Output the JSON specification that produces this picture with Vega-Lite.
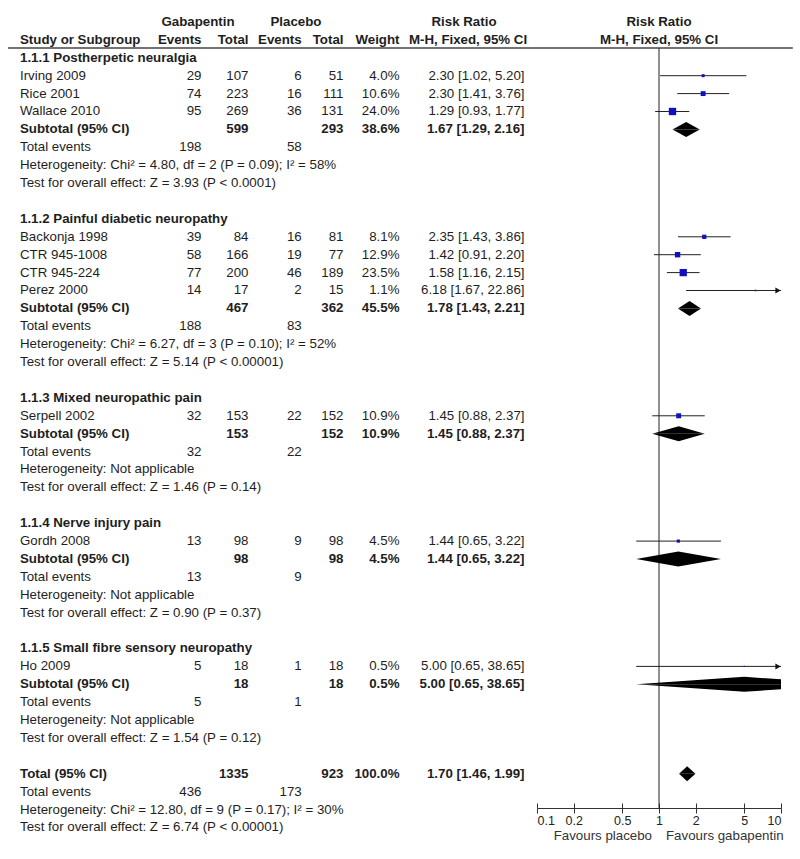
{
  "$schema": "https://vega.github.io/schema/vega-lite/v6.json",
  "padding": 0,
  "spacing": 0,
  "bounds": "flush",
  "background": "white",
  "config": {
    "view": {"stroke": null},
    "font": "Liberation Sans",
    "text": {"font": "Liberation Sans", "fontSize": 13.3, "baseline": "middle", "color": "#1e1e1e"},
    "axis": {"labelFont": "Liberation Sans"}
  },
  "resolve": {"scale": {"x": "independent", "y": "independent"}},
  "datasets": {
    "table": [
      {"line": 2, "kind": "group", "label": "1.1.1 Postherpetic neuralgia"},
      {"line": 3, "kind": "study", "label": "Irving 2009", "ge": 29, "gt": 107, "pe": 6, "pt": 51, "weight": 0.040, "rr": 2.30, "lo": 1.02, "hi": 5.20, "ci": "2.30 [1.02, 5.20]"},
      {"line": 4, "kind": "study", "label": "Rice 2001", "ge": 74, "gt": 223, "pe": 16, "pt": 111, "weight": 0.106, "rr": 2.30, "lo": 1.41, "hi": 3.76, "ci": "2.30 [1.41, 3.76]"},
      {"line": 5, "kind": "study", "label": "Wallace 2010", "ge": 95, "gt": 269, "pe": 36, "pt": 131, "weight": 0.240, "rr": 1.29, "lo": 0.93, "hi": 1.77, "ci": "1.29 [0.93, 1.77]"},
      {"line": 6, "kind": "subtotal", "label": "Subtotal (95% CI)", "gt": 599, "pt": 293, "weight": 0.386, "rr": 1.67, "lo": 1.29, "hi": 2.16, "ci": "1.67 [1.29, 2.16]"},
      {"line": 7, "kind": "events", "label": "Total events", "ge": 198, "pe": 58},
      {"line": 8, "kind": "note", "label": "Heterogeneity: Chi² = 4.80, df = 2 (P = 0.09); I² = 58%"},
      {"line": 9, "kind": "note", "label": "Test for overall effect: Z = 3.93 (P < 0.0001)"},
      {"line": 11, "kind": "group", "label": "1.1.2 Painful diabetic neuropathy"},
      {"line": 12, "kind": "study", "label": "Backonja 1998", "ge": 39, "gt": 84, "pe": 16, "pt": 81, "weight": 0.081, "rr": 2.35, "lo": 1.43, "hi": 3.86, "ci": "2.35 [1.43, 3.86]"},
      {"line": 13, "kind": "study", "label": "CTR 945-1008", "ge": 58, "gt": 166, "pe": 19, "pt": 77, "weight": 0.129, "rr": 1.42, "lo": 0.91, "hi": 2.20, "ci": "1.42 [0.91, 2.20]"},
      {"line": 14, "kind": "study", "label": "CTR 945-224", "ge": 77, "gt": 200, "pe": 46, "pt": 189, "weight": 0.235, "rr": 1.58, "lo": 1.16, "hi": 2.15, "ci": "1.58 [1.16, 2.15]"},
      {"line": 15, "kind": "study", "label": "Perez 2000", "ge": 14, "gt": 17, "pe": 2, "pt": 15, "weight": 0.011, "rr": 6.18, "lo": 1.67, "hi": 22.86, "ci": "6.18 [1.67, 22.86]"},
      {"line": 16, "kind": "subtotal", "label": "Subtotal (95% CI)", "gt": 467, "pt": 362, "weight": 0.455, "rr": 1.78, "lo": 1.43, "hi": 2.21, "ci": "1.78 [1.43, 2.21]"},
      {"line": 17, "kind": "events", "label": "Total events", "ge": 188, "pe": 83},
      {"line": 18, "kind": "note", "label": "Heterogeneity: Chi² = 6.27, df = 3 (P = 0.10); I² = 52%"},
      {"line": 19, "kind": "note", "label": "Test for overall effect: Z = 5.14 (P < 0.00001)"},
      {"line": 21, "kind": "group", "label": "1.1.3 Mixed neuropathic pain"},
      {"line": 22, "kind": "study", "label": "Serpell 2002", "ge": 32, "gt": 153, "pe": 22, "pt": 152, "weight": 0.109, "rr": 1.45, "lo": 0.88, "hi": 2.37, "ci": "1.45 [0.88, 2.37]"},
      {"line": 23, "kind": "subtotal", "label": "Subtotal (95% CI)", "gt": 153, "pt": 152, "weight": 0.109, "rr": 1.45, "lo": 0.88, "hi": 2.37, "ci": "1.45 [0.88, 2.37]"},
      {"line": 24, "kind": "events", "label": "Total events", "ge": 32, "pe": 22},
      {"line": 25, "kind": "note", "label": "Heterogeneity: Not applicable"},
      {"line": 26, "kind": "note", "label": "Test for overall effect: Z = 1.46 (P = 0.14)"},
      {"line": 28, "kind": "group", "label": "1.1.4 Nerve injury pain"},
      {"line": 29, "kind": "study", "label": "Gordh 2008", "ge": 13, "gt": 98, "pe": 9, "pt": 98, "weight": 0.045, "rr": 1.44, "lo": 0.65, "hi": 3.22, "ci": "1.44 [0.65, 3.22]"},
      {"line": 30, "kind": "subtotal", "label": "Subtotal (95% CI)", "gt": 98, "pt": 98, "weight": 0.045, "rr": 1.44, "lo": 0.65, "hi": 3.22, "ci": "1.44 [0.65, 3.22]"},
      {"line": 31, "kind": "events", "label": "Total events", "ge": 13, "pe": 9},
      {"line": 32, "kind": "note", "label": "Heterogeneity: Not applicable"},
      {"line": 33, "kind": "note", "label": "Test for overall effect: Z = 0.90 (P = 0.37)"},
      {"line": 35, "kind": "group", "label": "1.1.5 Small fibre sensory neuropathy"},
      {"line": 36, "kind": "study", "label": "Ho 2009", "ge": 5, "gt": 18, "pe": 1, "pt": 18, "weight": 0.005, "rr": 5.00, "lo": 0.65, "hi": 38.65, "ci": "5.00 [0.65, 38.65]"},
      {"line": 37, "kind": "subtotal", "label": "Subtotal (95% CI)", "gt": 18, "pt": 18, "weight": 0.005, "rr": 5.00, "lo": 0.65, "hi": 38.65, "ci": "5.00 [0.65, 38.65]"},
      {"line": 38, "kind": "events", "label": "Total events", "ge": 5, "pe": 1},
      {"line": 39, "kind": "note", "label": "Heterogeneity: Not applicable"},
      {"line": 40, "kind": "note", "label": "Test for overall effect: Z = 1.54 (P = 0.12)"},
      {"line": 42, "kind": "total", "label": "Total (95% CI)", "gt": 1335, "pt": 923, "weight": 1.0, "rr": 1.70, "lo": 1.46, "hi": 1.99, "ci": "1.70 [1.46, 1.99]"},
      {"line": 43, "kind": "events", "label": "Total events", "ge": 436, "pe": 173},
      {"line": 44, "kind": "note", "label": "Heterogeneity: Chi² = 12.80, df = 9 (P = 0.17); I² = 30%"},
      {"line": 45, "kind": "note", "label": "Test for overall effect: Z = 6.74 (P < 0.00001)"}
    ],
    "one": [{}]
  },
  "hconcat": [
    {
      "width": 537,
      "height": 808,
      "data": {"name": "table"},
      "layer": [
        {"data": {"name": "one"}, "mark": {"type": "rule", "stroke": "#444", "strokeWidth": 1.5},
         "encoding": {"x": {"datum": 8, "type": "quantitative", "scale": {"domain": [0, 537], "nice": false, "zero": false}, "axis": null}, "x2": {"datum": 537},
                      "y": {"datum": 1.45, "type": "quantitative", "scale": {"domain": [-1.229, 43.911], "reverse": true, "nice": false, "zero": false}, "axis": null}}},
        {"data": {"name": "one"}, "mark": {"type": "text", "fontWeight": "bold", "align": "center", "text": "Gabapentin"},
         "encoding": {"x": {"datum": 198, "type": "quantitative"}, "y": {"datum": 0, "type": "quantitative"}}},
        {"data": {"name": "one"}, "mark": {"type": "text", "fontWeight": "bold", "align": "center", "text": "Placebo"},
         "encoding": {"x": {"datum": 296, "type": "quantitative"}, "y": {"datum": 0, "type": "quantitative"}}},
        {"data": {"name": "one"}, "mark": {"type": "text", "fontWeight": "bold", "align": "center", "text": "Risk Ratio"},
         "encoding": {"x": {"datum": 464, "type": "quantitative"}, "y": {"datum": 0, "type": "quantitative"}}},
        {"data": {"name": "one"}, "mark": {"type": "text", "fontWeight": "bold", "align": "left", "text": "Study or Subgroup"},
         "encoding": {"x": {"datum": 20, "type": "quantitative"}, "y": {"datum": 1, "type": "quantitative"}}},
        {"data": {"name": "one"}, "mark": {"type": "text", "fontWeight": "bold", "align": "right", "text": "Events"},
         "encoding": {"x": {"datum": 201.5, "type": "quantitative"}, "y": {"datum": 1, "type": "quantitative"}}},
        {"data": {"name": "one"}, "mark": {"type": "text", "fontWeight": "bold", "align": "right", "text": "Total"},
         "encoding": {"x": {"datum": 248.5, "type": "quantitative"}, "y": {"datum": 1, "type": "quantitative"}}},
        {"data": {"name": "one"}, "mark": {"type": "text", "fontWeight": "bold", "align": "right", "text": "Events"},
         "encoding": {"x": {"datum": 301.7, "type": "quantitative"}, "y": {"datum": 1, "type": "quantitative"}}},
        {"data": {"name": "one"}, "mark": {"type": "text", "fontWeight": "bold", "align": "right", "text": "Total"},
         "encoding": {"x": {"datum": 343.5, "type": "quantitative"}, "y": {"datum": 1, "type": "quantitative"}}},
        {"data": {"name": "one"}, "mark": {"type": "text", "fontWeight": "bold", "align": "right", "text": "Weight"},
         "encoding": {"x": {"datum": 399.5, "type": "quantitative"}, "y": {"datum": 1, "type": "quantitative"}}},
        {"data": {"name": "one"}, "mark": {"type": "text", "fontWeight": "bold", "align": "center", "text": "M-H, Fixed, 95% CI"},
         "encoding": {"x": {"datum": 468, "type": "quantitative"}, "y": {"datum": 1, "type": "quantitative"}}},
        {"transform": [{"filter": {"field": "kind", "oneOf": ["study", "events", "note"]}}],
         "mark": {"type": "text", "align": "left"},
         "encoding": {"x": {"datum": 20, "type": "quantitative"}, "y": {"field": "line", "type": "quantitative"}, "text": {"field": "label"}}},
        {"transform": [{"filter": {"field": "kind", "oneOf": ["group", "subtotal", "total"]}}],
         "mark": {"type": "text", "align": "left", "fontWeight": "bold"},
         "encoding": {"x": {"datum": 20, "type": "quantitative"}, "y": {"field": "line", "type": "quantitative"}, "text": {"field": "label"}}},
        {"transform": [{"filter": {"field": "ge", "valid": true}}],
         "mark": {"type": "text", "align": "right"},
         "encoding": {"x": {"datum": 201.5, "type": "quantitative"}, "y": {"field": "line", "type": "quantitative"}, "text": {"field": "ge", "type": "quantitative", "format": "d"}}},
        {"transform": [{"filter": {"field": "kind", "equal": "study"}}],
         "mark": {"type": "text", "align": "right"},
         "encoding": {"x": {"datum": 248.5, "type": "quantitative"}, "y": {"field": "line", "type": "quantitative"}, "text": {"field": "gt", "type": "quantitative", "format": "d"}}},
        {"transform": [{"filter": {"field": "kind", "oneOf": ["subtotal", "total"]}}],
         "mark": {"type": "text", "align": "right", "fontWeight": "bold"},
         "encoding": {"x": {"datum": 248.5, "type": "quantitative"}, "y": {"field": "line", "type": "quantitative"}, "text": {"field": "gt", "type": "quantitative", "format": "d"}}},
        {"transform": [{"filter": {"field": "pe", "valid": true}}],
         "mark": {"type": "text", "align": "right"},
         "encoding": {"x": {"datum": 301.7, "type": "quantitative"}, "y": {"field": "line", "type": "quantitative"}, "text": {"field": "pe", "type": "quantitative", "format": "d"}}},
        {"transform": [{"filter": {"field": "kind", "equal": "study"}}],
         "mark": {"type": "text", "align": "right"},
         "encoding": {"x": {"datum": 343.5, "type": "quantitative"}, "y": {"field": "line", "type": "quantitative"}, "text": {"field": "pt", "type": "quantitative", "format": "d"}}},
        {"transform": [{"filter": {"field": "kind", "oneOf": ["subtotal", "total"]}}],
         "mark": {"type": "text", "align": "right", "fontWeight": "bold"},
         "encoding": {"x": {"datum": 343.5, "type": "quantitative"}, "y": {"field": "line", "type": "quantitative"}, "text": {"field": "pt", "type": "quantitative", "format": "d"}}},
        {"transform": [{"filter": {"field": "kind", "equal": "study"}}],
         "mark": {"type": "text", "align": "right"},
         "encoding": {"x": {"datum": 399.5, "type": "quantitative"}, "y": {"field": "line", "type": "quantitative"}, "text": {"field": "weight", "type": "quantitative", "format": ".1%"}}},
        {"transform": [{"filter": {"field": "kind", "oneOf": ["subtotal", "total"]}}],
         "mark": {"type": "text", "align": "right", "fontWeight": "bold"},
         "encoding": {"x": {"datum": 399.5, "type": "quantitative"}, "y": {"field": "line", "type": "quantitative"}, "text": {"field": "weight", "type": "quantitative", "format": ".1%"}}},
        {"transform": [{"filter": {"field": "kind", "equal": "study"}}],
         "mark": {"type": "text", "align": "right"},
         "encoding": {"x": {"datum": 524.5, "type": "quantitative"}, "y": {"field": "line", "type": "quantitative"}, "text": {"field": "ci"}}},
        {"transform": [{"filter": {"field": "kind", "oneOf": ["subtotal", "total"]}}],
         "mark": {"type": "text", "align": "right", "fontWeight": "bold"},
         "encoding": {"x": {"datum": 524.5, "type": "quantitative"}, "y": {"field": "line", "type": "quantitative"}, "text": {"field": "ci"}}}
      ]
    },
    {
      "width": 244,
      "height": 808,
      "data": {"name": "table"},
      "resolve": {"axis": {"x": "independent"}},
      "layer": [
        {"data": {"name": "one"}, "mark": {"type": "rule", "stroke": "#444", "strokeWidth": 1.5},
         "encoding": {"x": {"datum": 0.1, "type": "quantitative", "scale": {"type": "log", "domain": [0.1, 10], "nice": false},
                            "axis": {"orient": "bottom", "values": [0.1, 0.2, 0.5, 1, 2, 5, 10], "format": "~g", "title": null, "grid": false, "domainColor": "#333", "tickColor": "#333", "tickSize": 5, "labelFontSize": 12.5, "labelColor": "#222", "labelPadding": 1, "labelFlush": true, "labelOverlap": false}},
                      "x2": {"datum": 12.5},
                      "y": {"datum": 1.45, "type": "quantitative", "scale": {"domain": [-1.229, 43.911], "reverse": true, "nice": false, "zero": false}, "axis": null}}},
        {"data": {"name": "one"}, "mark": {"type": "text", "fontWeight": "bold", "align": "center", "text": "Risk Ratio"},
         "encoding": {"x": {"datum": 1, "type": "quantitative", "axis": null}, "y": {"datum": 0, "type": "quantitative"}}},
        {"data": {"name": "one"}, "mark": {"type": "text", "fontWeight": "bold", "align": "center", "text": "M-H, Fixed, 95% CI"},
         "encoding": {"x": {"datum": 1, "type": "quantitative", "axis": null}, "y": {"datum": 1, "type": "quantitative"}}},
        {"data": {"name": "one"}, "mark": {"type": "rule", "stroke": "#222", "strokeWidth": 1},
         "encoding": {"x": {"datum": 1, "type": "quantitative",
                            "axis": {"orient": "bottom", "values": [0.1, 0.2, 0.5, 1, 2, 5, 10], "title": null, "grid": false, "domain": false, "labels": false, "ticks": true, "tickColor": "#333", "tickSize": -5}},
                      "y": {"datum": 1.45, "type": "quantitative"}, "y2": {"datum": 43.911}}},
        {"transform": [{"filter": {"field": "kind", "equal": "study"}}],
         "mark": {"type": "rule", "stroke": "#222", "strokeWidth": 1, "clip": true},
         "encoding": {"x": {"field": "lo", "type": "quantitative", "axis": null}, "x2": {"field": "hi"}, "y": {"field": "line", "type": "quantitative"}}},
        {"transform": [{"filter": {"field": "kind", "equal": "study"}}],
         "mark": {"type": "point", "shape": "square", "filled": true, "color": "#1010c0", "opacity": 1},
         "encoding": {"x": {"field": "rr", "type": "quantitative", "axis": null}, "y": {"field": "line", "type": "quantitative"},
                      "size": {"field": "weight", "type": "quantitative", "scale": {"domain": [0, 1], "range": [0, 225], "zero": true}, "legend": null}}},
        {"transform": [{"filter": "datum.kind == 'study' && datum.hi > 10"}],
         "mark": {"type": "point", "shape": "triangle-right", "filled": true, "color": "#111", "opacity": 1, "size": 36, "xOffset": -3},
         "encoding": {"x": {"datum": 10, "type": "quantitative", "axis": null}, "y": {"field": "line", "type": "quantitative"}}},
        {"transform": [
           {"filter": {"field": "kind", "oneOf": ["subtotal", "total"]}},
           {"fold": ["lo", "rr", "hi"], "as": ["vertex", "value"]}
         ],
         "mark": {"type": "area", "color": "#000", "opacity": 1, "clip": true, "orient": "vertical", "yOffset": {"expr": "datum.vertex == 'rr' ? -7.5 : 0"}},
         "encoding": {"x": {"field": "value", "type": "quantitative", "axis": null},
                      "y": {"field": "line", "type": "quantitative", "stack": null},
                      "y2": {"field": "line"},
                      "detail": {"field": "line", "type": "nominal"}}},
        {"transform": [
           {"filter": {"field": "kind", "oneOf": ["subtotal", "total"]}},
           {"fold": ["lo", "rr", "hi"], "as": ["vertex", "value"]}
         ],
         "mark": {"type": "area", "color": "#000", "opacity": 1, "clip": true, "orient": "vertical", "yOffset": {"expr": "datum.vertex == 'rr' ? 7.5 : 0"}},
         "encoding": {"x": {"field": "value", "type": "quantitative", "axis": null},
                      "y": {"field": "line", "type": "quantitative", "stack": null},
                      "y2": {"field": "line"},
                      "detail": {"field": "line", "type": "nominal"}}},
        {"data": {"name": "one"}, "mark": {"type": "text", "align": "right", "dx": -7, "dy": 28, "text": "Favours placebo", "color": "#333"},
         "encoding": {"x": {"datum": 1, "type": "quantitative", "axis": null}, "y": {"datum": 43.911, "type": "quantitative"}}},
        {"data": {"name": "one"}, "mark": {"type": "text", "align": "left", "dx": 7, "dy": 28, "text": "Favours gabapentin", "color": "#333"},
         "encoding": {"x": {"datum": 1, "type": "quantitative", "axis": null}, "y": {"datum": 43.911, "type": "quantitative"}}}
      ]
    }
  ]
}
